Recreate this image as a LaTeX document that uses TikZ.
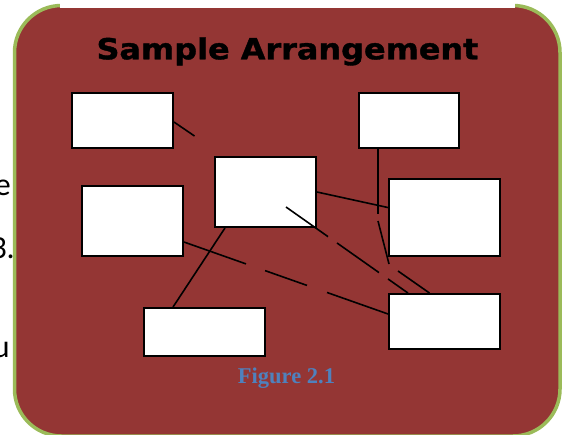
\documentclass[tikz,border=0pt]{standalone}
\usepackage{fontspec}
\usepackage{graphicx}
\setmainfont{Liberation Serif}
\newfontfamily\titlefont{DejaVu Sans}[BoldFeatures={FakeBold=1.2}]
\newfontfamily\docfont{Carlito}
\definecolor{panelred}{HTML}{943634}
\definecolor{panelgreen}{HTML}{9BBB59}
\definecolor{capblue}{HTML}{4F81BD}
\tikzset{
  box/.style={draw=black, fill=white, line width=1.9pt, inner sep=0pt, rectangle},
  link/.style={draw=black, line width=1.6pt},
  frag/.style={inner sep=0pt, anchor=base east, font=\docfont\fontsize{32}{38}\selectfont, text=black},
}
\begin{document}
\begin{tikzpicture}[x=1pt,y=-1pt]
\useasboundingbox (0,0) rectangle (569,434);
\fill[white] (0,0) rectangle (569,434);
% text of the page behind, cut at the left edge
\node[frag] (t1) at (11,195) {e};
\node[frag] (t2) at (15,258) {3.};
\node[frag] (t3) at (10,357) {u};
% panel
\draw[fill=panelred, draw=panelgreen, line width=3.5pt, rounded corners=47pt] (14.5,5.5) rectangle (560,436);
\fill[white] (60,-5) rectangle (515,7.6);
% title and caption
\node[inner sep=0pt, anchor=base, font=\titlefont\bfseries\fontsize{29}{34}\selectfont] (title) at (287.5,59.3) {\scalebox{1.1}[1]{Sample Arrangement}};
\node[inner sep=0pt, anchor=base, font=\bfseries\fontsize{22.5}{27}\selectfont, text=capblue] (cap) at (286.5,383) {Figure 2.1};
% boxes
\node[box, minimum width=101pt, minimum height=55pt] (A) at (122.5,120.5) {};
\node[box, minimum width=101pt, minimum height=70pt] (B) at (132.5,221) {};
\node[box, minimum width=101pt, minimum height=70pt] (C) at (265.5,192) {};
\node[box, minimum width=100pt, minimum height=55pt] (D) at (409,120.5) {};
\node[box, minimum width=111pt, minimum height=77pt] (E) at (444.5,217.5) {};
\node[box, minimum width=111pt, minimum height=55pt] (F) at (444.5,321.5) {};
\node[box, minimum width=121pt, minimum height=48pt] (G) at (204.5,332) {};
% free ends
\coordinate (a1) at (194.5,136);
\coordinate (d1) at (378,214);
\coordinate (d2) at (378,221);
\coordinate (d3) at (389,264);
\coordinate (c1) at (286,207);
\coordinate (f1) at (398,271);
% connectors
\draw[link] ([yshift=-1.5pt]A.east) -- (a1);
\draw[link] (C.east) -- (E.170);
\draw[link] ([xshift=-31pt]D.south) -- (d1);
\draw[link] (d2) -- (d3);
\draw[link, dash pattern=on 51.4pt off 11pt on 51.4pt off 11pt on 40pt] (c1) -- ([xshift=-36.5pt]F.north);
\draw[link] (f1) -- ([xshift=-15pt]F.north);
\draw[link, dash pattern=on 65.8pt off 20.2pt on 44.5pt off 21.2pt on 80pt] ([yshift=-21pt]B.east) -- ([yshift=7.5pt]F.west);
\draw[link] ([xshift=-40.5pt]C.south) -- ([xshift=-31.5pt]G.north);
\end{tikzpicture}
\end{document}
